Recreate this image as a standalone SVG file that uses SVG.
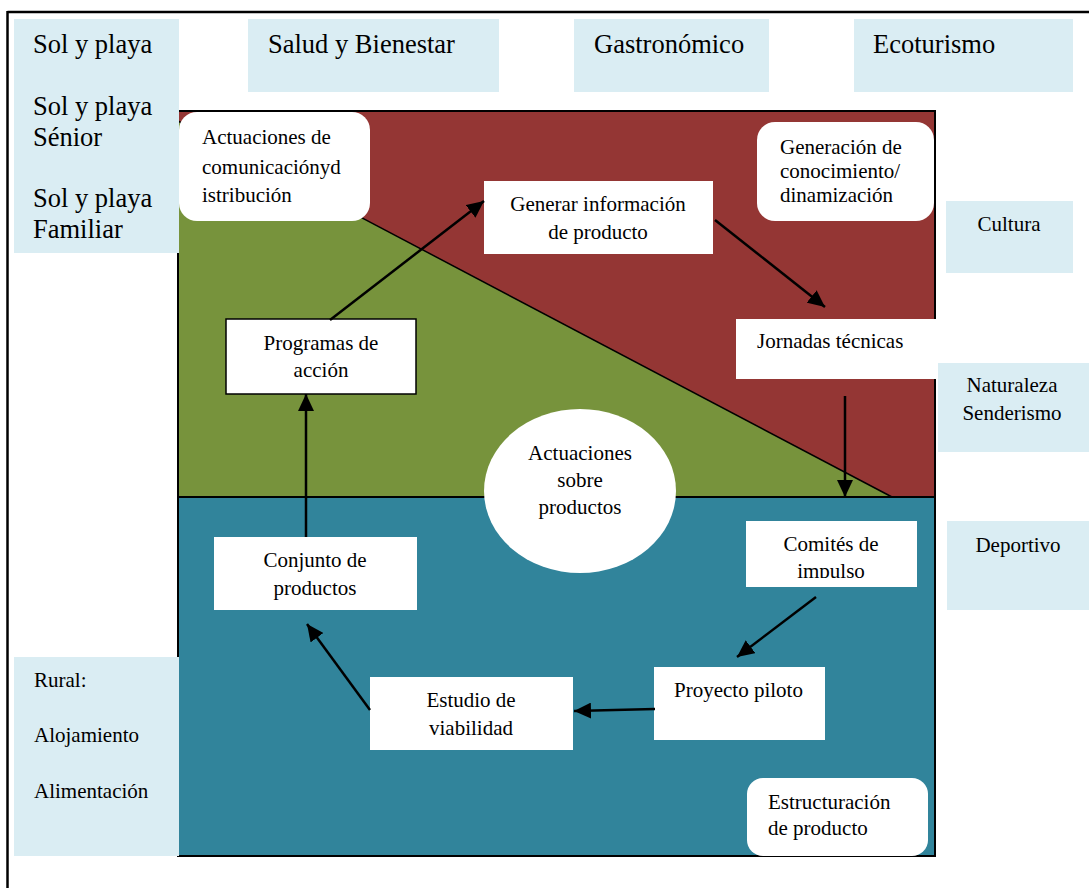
<svg xmlns="http://www.w3.org/2000/svg" width="1089" height="888" viewBox="0 0 1089 888">
<style>
.lb{fill:#DAEDF3}
.wb{fill:#ffffff}
.big{font-family:"Liberation Serif","Times New Roman",serif;font-size:26.5px;fill:#000}
.sm{font-family:"Liberation Serif","Times New Roman",serif;font-size:21px;fill:#000}
.c{text-anchor:middle}
.arr{stroke:#000;stroke-width:2.5;fill:none;marker-end:url(#ah)}
</style>
<defs>
<marker id="ah" markerUnits="userSpaceOnUse" markerWidth="17" markerHeight="16" refX="17" refY="8" orient="auto">
<path d="M0,0 L17,8 L0,16 z" fill="#000"/>
</marker>
<clipPath id="clipCom"><rect x="746" y="521" width="171" height="57"/></clipPath>
</defs>
<rect x="0" y="0" width="1089" height="888" fill="#ffffff"/>
<g id="frame">
<line x1="7.5" y1="12" x2="1089" y2="12" stroke="#000" stroke-width="2.5"/>
<line x1="7.5" y1="11" x2="7.5" y2="888" stroke="#000" stroke-width="2.5"/>
</g>
<g id="regions">
<rect x="178" y="111" width="757" height="745" fill="#943634"/>
<polygon points="178,121 892,497 178,497" fill="#77933C"/>
<rect x="178" y="497" width="757" height="359" fill="#31849B"/>
<line x1="178" y1="121" x2="892" y2="497" stroke="#000" stroke-width="1.5"/>
<line x1="178" y1="497" x2="935" y2="497" stroke="#000" stroke-width="2"/>
<rect x="178" y="111" width="757" height="745" fill="none" stroke="#000" stroke-width="2"/>
</g>
<g id="sol">
<rect class="lb" x="14" y="19" width="165" height="234"/>
<text class="big" x="33" y="53">Sol y playa</text>
<text class="big" x="33" y="115">Sol y playa</text>
<text class="big" x="33" y="146">Sénior</text>
<text class="big" x="33" y="207">Sol y playa</text>
<text class="big" x="33" y="238">Familiar</text>
</g>
<g id="salud">
<rect class="lb" x="248" y="19" width="251" height="73"/>
<text class="big" x="268" y="53">Salud y Bienestar</text>
</g>
<g id="gastro">
<rect class="lb" x="574" y="19" width="195" height="73"/>
<text class="big" x="594" y="53">Gastronómico</text>
</g>
<g id="eco">
<rect class="lb" x="854" y="19" width="219" height="73"/>
<text class="big" x="873" y="53">Ecoturismo</text>
</g>
<g id="cultura">
<rect class="lb" x="946" y="201" width="127" height="72"/>
<text class="sm c" x="1009" y="231">Cultura</text>
</g>
<g id="naturaleza">
<rect class="lb" x="938" y="363" width="151" height="89"/>
<text class="sm c" x="1012" y="392">Naturaleza</text>
<text class="sm c" x="1012" y="420">Senderismo</text>
</g>
<g id="deportivo">
<rect class="lb" x="947" y="521" width="142" height="89"/>
<text class="sm c" x="1018" y="552">Deportivo</text>
</g>
<g id="rural">
<rect class="lb" x="14" y="657" width="165" height="199"/>
<text class="sm" x="34" y="687">Rural:</text>
<text class="sm" x="34" y="742">Alojamiento</text>
<text class="sm" x="34" y="798">Alimentación</text>
</g>
<g id="actuaciones-com">
<rect class="wb" x="179" y="112" width="191" height="109" rx="18"/>
<text class="sm" x="202" y="144">Actuaciones de</text>
<text class="sm" x="202" y="174">comunicaciónyd</text>
<text class="sm" x="202" y="202">istribución</text>
</g>
<g id="generacion">
<rect class="wb" x="757" y="122" width="177" height="99" rx="18"/>
<text class="sm" x="780" y="154">Generación de</text>
<text class="sm" x="780" y="178">conocimiento/</text>
<text class="sm" x="780" y="202">dinamización</text>
</g>
<g id="generar">
<rect class="wb" x="484" y="181" width="229" height="73"/>
<text class="sm c" x="598" y="211">Generar información</text>
<text class="sm c" x="598" y="239">de producto</text>
</g>
<g id="jornadas">
<rect class="wb" x="736" y="319" width="200" height="60"/>
<text class="sm" x="757" y="348">Jornadas técnicas</text>
</g>
<g id="programas">
<rect class="wb" x="226" y="319" width="190" height="75" stroke="#000" stroke-width="1.5"/>
<text class="sm c" x="321" y="350">Programas de</text>
<text class="sm c" x="321" y="377">acción</text>
</g>
<g id="actuaciones-prod">
<ellipse class="wb" cx="580" cy="491" rx="96" ry="82"/>
<text class="sm c" x="580" y="460">Actuaciones</text>
<text class="sm c" x="580" y="487">sobre</text>
<text class="sm c" x="580" y="514">productos</text>
</g>
<g id="comites">
<rect class="wb" x="746" y="521" width="171" height="66"/>
<g clip-path="url(#clipCom)">
<text class="sm c" x="831" y="551">Comités de</text>
<text class="sm c" x="831" y="578">impulso</text>
</g>
</g>
<g id="conjunto">
<rect class="wb" x="214" y="537" width="203" height="73"/>
<text class="sm c" x="315" y="567">Conjunto de</text>
<text class="sm c" x="315" y="595">productos</text>
</g>
<g id="proyecto">
<rect class="wb" x="654" y="667" width="171" height="73"/>
<text class="sm" x="674" y="697">Proyecto piloto</text>
</g>
<g id="estudio">
<rect class="wb" x="370" y="677" width="203" height="73"/>
<text class="sm c" x="471" y="707">Estudio de</text>
<text class="sm c" x="471" y="735">viabilidad</text>
</g>
<g id="estructuracion">
<rect class="wb" x="747" y="778" width="181" height="78" rx="16"/>
<text class="sm" x="768" y="809">Estructuración</text>
<text class="sm" x="768" y="835">de producto</text>
</g>
<g id="connectors">
<line class="arr" x1="330" y1="320" x2="484" y2="201"/>
<line class="arr" x1="715" y1="220" x2="825" y2="307"/>
<line class="arr" x1="845" y1="396" x2="845" y2="497"/>
<line class="arr" x1="816" y1="597" x2="737" y2="657"/>
<line class="arr" x1="655" y1="709" x2="574" y2="711"/>
<line class="arr" x1="370" y1="710" x2="307" y2="624"/>
<line class="arr" x1="306" y1="537" x2="306" y2="394"/>
</g>
</svg>
